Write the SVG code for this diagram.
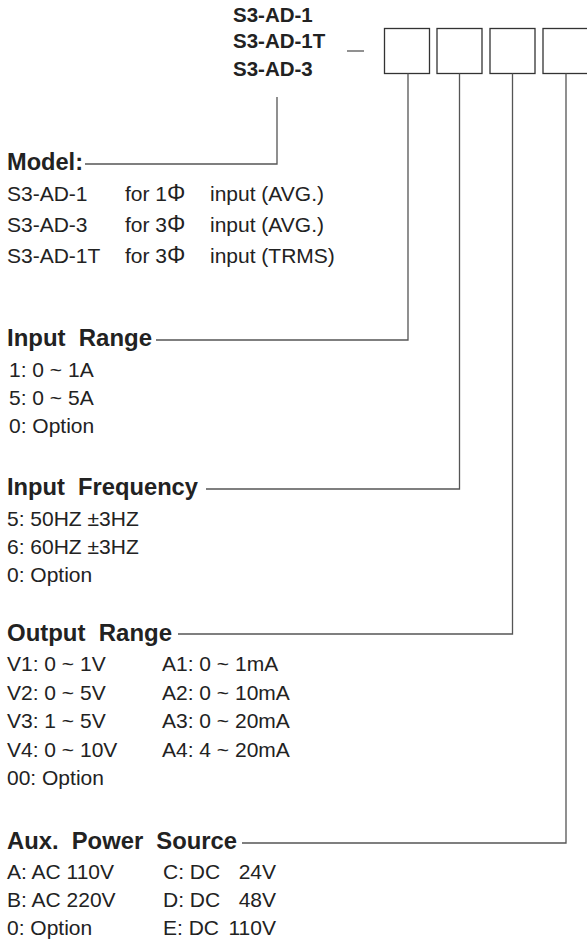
<svg xmlns="http://www.w3.org/2000/svg" width="587" height="943" viewBox="0 0 587 943">
<style>
text{white-space:pre}
.t{font-family:"Liberation Sans",Arial,sans-serif;font-size:21px;fill:#222}
.h{font-family:"Liberation Sans",Arial,sans-serif;font-size:24px;font-weight:bold;fill:#222}
.m{font-family:"Liberation Sans",Arial,sans-serif;font-size:20.5px;font-weight:bold;fill:#222}
.ph{font-size:23px}
.box{fill:#fff;stroke:#333;stroke-width:1.3}
.ln{fill:none;stroke:#555;stroke-width:1.3}
</style>
<rect width="587" height="943" fill="#fff"/>
<g id="code">
<text class="m" x="233" y="22">S3-AD-1</text>
<text class="m" x="233" y="48">S3-AD-1T</text>
<text class="m" x="233" y="76">S3-AD-3</text>
<line x1="347" y1="51" x2="364" y2="51" stroke="#555" stroke-width="1.3"/>
<rect class="box" x="384.5" y="28.5" width="45" height="45"/>
<rect class="box" x="437" y="28.5" width="45" height="45"/>
<rect class="box" x="490" y="28.5" width="45" height="45"/>
<rect class="box" x="543" y="28.5" width="45" height="45"/>
</g>
<g id="connectors">
<polyline class="ln" points="277,97 277,164 85,164"/>
<polyline class="ln" points="408,73.5 408,340 156,340"/>
<polyline class="ln" points="459.5,73.5 459.5,489 206,489"/>
<polyline class="ln" points="512.5,73.5 512.5,634 178,634"/>
<polyline class="ln" points="566,73.5 566,843 242,843"/>
</g>
<g id="model">
<text class="h" x="7" y="170" textLength="76" lengthAdjust="spacingAndGlyphs">Model:</text>
<text class="t" x="7" y="201">S3-AD-1</text><text class="t" x="125" y="201">for 1<tspan class="ph">Φ</tspan></text><text class="t" x="210" y="201">input (AVG.)</text>
<text class="t" x="7" y="232">S3-AD-3</text><text class="t" x="125" y="232">for 3<tspan class="ph">Φ</tspan></text><text class="t" x="210" y="232">input (AVG.)</text>
<text class="t" x="7" y="263">S3-AD-1T</text><text class="t" x="125" y="263">for 3<tspan class="ph">Φ</tspan></text><text class="t" x="210" y="263">input (TRMS)</text>
</g>
<g id="input-range">
<text class="h" x="7" y="346" textLength="145" lengthAdjust="spacingAndGlyphs">Input  Range</text>
<text class="t" x="9" y="377">1: 0 ~ 1A</text>
<text class="t" x="9" y="405">5: 0 ~ 5A</text>
<text class="t" x="9" y="433">0: Option</text>
</g>
<g id="input-frequency">
<text class="h" x="7" y="495" textLength="191" lengthAdjust="spacingAndGlyphs">Input  Frequency</text>
<text class="t" x="7" y="526">5: 50HZ ±3HZ</text>
<text class="t" x="7" y="554">6: 60HZ ±3HZ</text>
<text class="t" x="7" y="582">0: Option</text>
</g>
<g id="output-range">
<text class="h" x="7" y="641" textLength="165" lengthAdjust="spacingAndGlyphs">Output  Range</text>
<text class="t" x="7" y="671">V1: 0 ~ 1V</text><text class="t" x="162" y="671">A1: 0 ~ 1mA</text>
<text class="t" x="7" y="699.5">V2: 0 ~ 5V</text><text class="t" x="162" y="699.5">A2: 0 ~ 10mA</text>
<text class="t" x="7" y="728">V3: 1 ~ 5V</text><text class="t" x="162" y="728">A3: 0 ~ 20mA</text>
<text class="t" x="7" y="756.5">V4: 0 ~ 10V</text><text class="t" x="162" y="756.5">A4: 4 ~ 20mA</text>
<text class="t" x="7" y="785">00: Option</text>
</g>
<g id="aux-power">
<text class="h" x="7" y="849" textLength="230" lengthAdjust="spacingAndGlyphs">Aux.  Power  Source</text>
<text class="t" x="7" y="879">A: AC 110V</text><text class="t" x="163" y="879">C: DC</text><text class="t" x="276" y="879" text-anchor="end">24V</text>
<text class="t" x="7" y="907">B: AC 220V</text><text class="t" x="163" y="907">D: DC</text><text class="t" x="276" y="907" text-anchor="end">48V</text>
<text class="t" x="7" y="935">0: Option</text><text class="t" x="163" y="935">E: DC</text><text class="t" x="276" y="935" text-anchor="end">110V</text>
</g>
</svg>
